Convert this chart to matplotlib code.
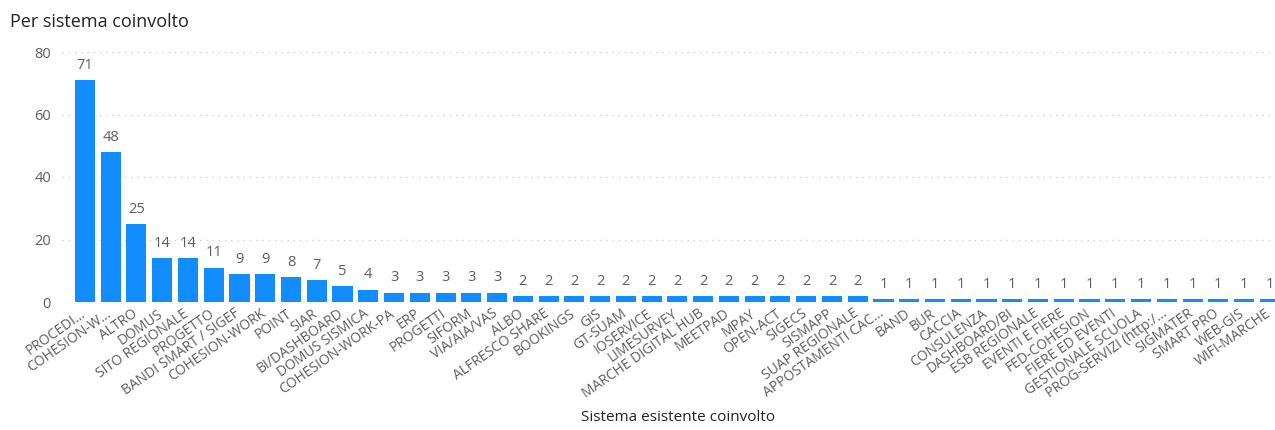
import matplotlib
matplotlib.use("Agg")
import matplotlib.pyplot as plt
import matplotlib.transforms as mtransforms

plt.rcParams['font.family'] = ['Open Sans', 'DejaVu Sans']

sistemi = [
    "PROCEDI...", "COHESION-W...", "ALTRO", "DOMUS", "SITO REGIONALE", "PROGETTO",
    "BANDI SMART / SIGEF", "COHESION-WORK", "POINT", "SIAR", "BI/DASHBOARD",
    "DOMUS SISMICA", "COHESION-WORK-PA", "ERP", "PROGETTI", "SIFORM", "VIA/AIA/VAS",
    "ALBO", "ALFRESCO SHARE", "BOOKINGS", "GIS", "GT-SUAM", "IOSERVICE", "LIMESURVEY",
    "MARCHE DIGITAL HUB", "MEETPAD", "MPAY", "OPEN-ACT", "SIGECS", "SISMAPP",
    "SUAP REGIONALE", "APPOSTAMENTI CAC...", "BAND", "BUR", "CACCIA", "CONSULENZA",
    "DASHBOARD/BI", "ESB REGIONALE", "EVENTI E FIERE", "FED-COHESION",
    "FIERE ED EVENTI", "GESTIONALE SCUOLA", "PROG-SERVIZI (http:/...", "SIGMATER",
    "SMART PRO", "WEB-GIS", "WIFI-MARCHE",
]
conteggi = [71, 48, 25, 14, 14, 11, 9, 9, 8, 7, 5, 4,
            3, 3, 3, 3, 3,
            2, 2, 2, 2, 2, 2, 2, 2, 2, 2, 2, 2, 2, 2,
            1, 1, 1, 1, 1, 1, 1, 1, 1, 1, 1, 1, 1, 1, 1, 1]

fig = plt.figure(figsize=(12.75, 4.3), dpi=100)
ax = fig.add_axes([62/1275, 128/430, 1 - 62/1275, 250/430])

x = list(range(len(sistemi)))
ax.bar(x, conteggi, width=0.78, color='#118DFF', zorder=2)
for xi, v in zip(x, conteggi):
    ax.text(xi, v + 2.3, str(v), ha='center', va='bottom', fontsize=10.5, color='#605E5C')

ax.set_ylim(0, 80)
ax.set_yticks([0, 20, 40, 60, 80])
ax.set_xlim(-0.89, 46.2)
ax.yaxis.grid(True, linestyle=(0, (1, 4)), color='#C8C8C8', linewidth=0.9)
ax.set_axisbelow(True)
for s in ax.spines.values():
    s.set_visible(False)
ax.tick_params(axis='both', length=0, colors='#605E5C', labelsize=10.5)
ax.tick_params(axis='y', pad=8)
ax.tick_params(axis='x', pad=3)
ax.set_xticks(x)
ax.set_xticklabels(sistemi, rotation=35, ha='right', rotation_mode='anchor', fontsize=10)

# shift rotated labels a little left, like the original
shift = mtransforms.ScaledTranslation(-5/100, 0, fig.dpi_scale_trans)
for lab in ax.get_xticklabels():
    lab.set_transform(lab.get_transform() + shift)

fig.text(678/1275, 1 - 425/430, "Sistema esistente coinvolto", ha='center', va='bottom',
         fontsize=11, color='#252423')
fig.text(10/1275, 1 - 22/430, "Per sistema coinvolto", ha='left', va='center',
         fontsize=13, color='#252423')

fig.savefig("out.png", dpi=100)
